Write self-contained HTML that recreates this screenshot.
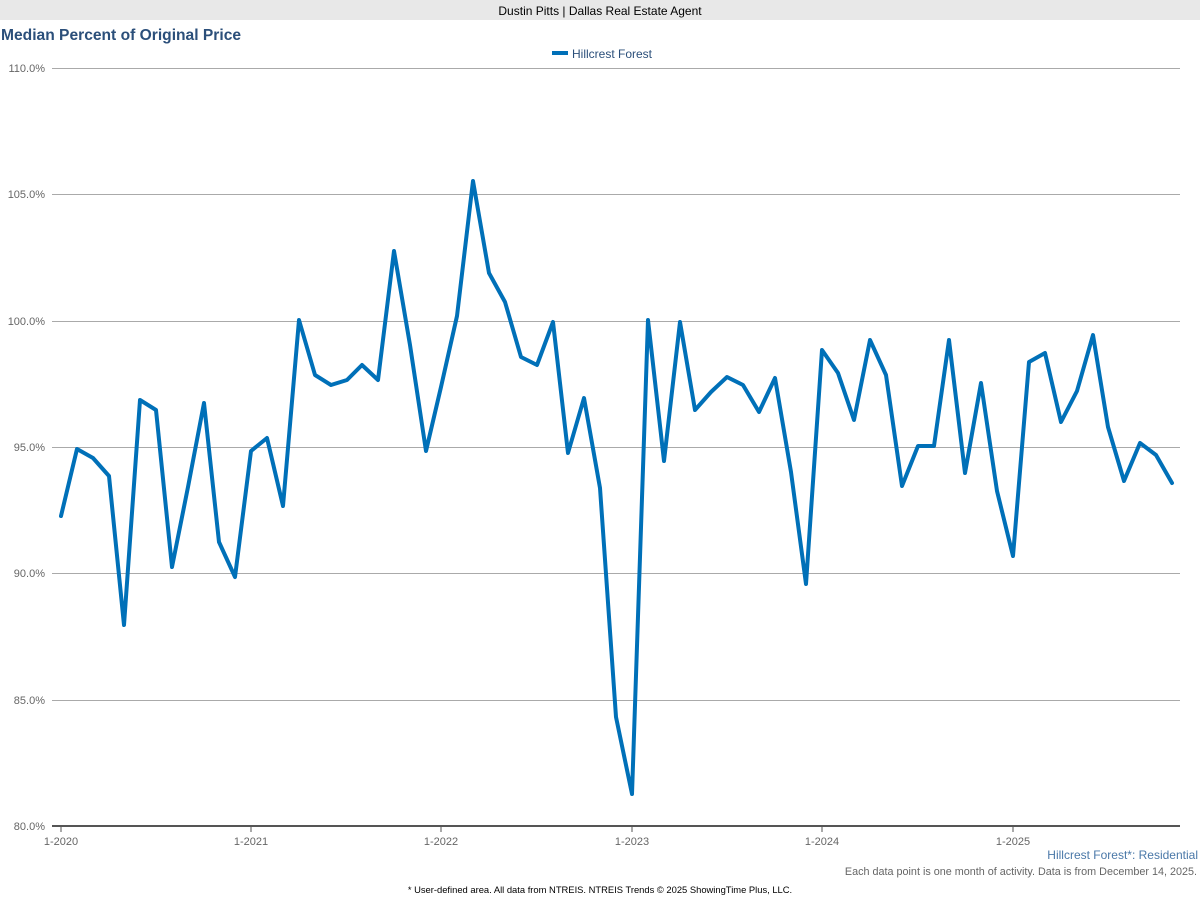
<!DOCTYPE html>
<html><head><meta charset="utf-8"><style>
html,body{margin:0;padding:0;background:#fff;width:1200px;height:900px;overflow:hidden;font-family:"Liberation Sans",Arial,sans-serif}
</style></head><body>
<svg width="1200" height="900" xmlns="http://www.w3.org/2000/svg" font-family="Liberation Sans, Arial, sans-serif">
<rect x="0" y="0" width="1200" height="20" fill="#e8e8e8"/>
<text x="600" y="15" font-size="12" text-anchor="middle" fill="#000">Dustin Pitts | Dallas Real Estate Agent</text>
<text x="1" y="40" font-size="15.6" font-weight="bold" fill="#2b4f7a">Median Percent of Original Price</text>
<line x1="552" y1="53" x2="568" y2="53" stroke="#0070b8" stroke-width="4"/>
<text x="572" y="58" font-size="12" fill="#2b4f7a">Hillcrest Forest</text>
<g stroke="#aaa" stroke-width="1">
<line x1="52" y1="68.5" x2="1180" y2="68.5"/>
<line x1="52" y1="194.5" x2="1180" y2="194.5"/>
<line x1="52" y1="321.5" x2="1180" y2="321.5"/>
<line x1="52" y1="447.5" x2="1180" y2="447.5"/>
<line x1="52" y1="573.5" x2="1180" y2="573.5"/>
<line x1="52" y1="700.5" x2="1180" y2="700.5"/>
</g>
<line x1="52" y1="826" x2="1180" y2="826" stroke="#555" stroke-width="2"/>
<g stroke="#555" stroke-width="1">
<line x1="61" y1="826" x2="61" y2="832"/><line x1="251" y1="826" x2="251" y2="832"/><line x1="441" y1="826" x2="441" y2="832"/><line x1="632" y1="826" x2="632" y2="832"/><line x1="822" y1="826" x2="822" y2="832"/><line x1="1013" y1="826" x2="1013" y2="832"/>
</g>
<g font-size="11" fill="#666" text-anchor="end">
<text x="45" y="72">110.0%</text><text x="45" y="198">105.0%</text><text x="45" y="325">100.0%</text><text x="45" y="451">95.0%</text><text x="45" y="577">90.0%</text><text x="45" y="704">85.0%</text><text x="45" y="830">80.0%</text>
</g>
<g font-size="11" fill="#666" text-anchor="middle">
<text x="61" y="845">1-2020</text><text x="251" y="845">1-2021</text><text x="441" y="845">1-2022</text><text x="632" y="845">1-2023</text><text x="822" y="845">1-2024</text><text x="1013" y="845">1-2025</text>
</g>
<polyline fill="none" stroke="#0070b8" stroke-width="4" stroke-linejoin="round" stroke-linecap="round" points="61,516 77,449 93,458 109,476 124,625 140,400 156,410 172,567 188,487 204,403 219,542 235,577 251,451 267,438 283,506 299,320 315,375 331,385 347,380 362,365 378,380 394,251 410,345 426,451 441,387 457,316 473,181 489,273 505,302 521,357 537,365 553,322 568,453 584,398 600,488 616,717 632,794 648,320 664,461 680,322 695,410 711,392 727,377 743,385 759,412 775,378 791,472 806,584 822,350 838,373 854,420 870,340 886,375 902,486 918,446 934,446 949,340 965,473 981,383 997,491 1013,556 1029,362 1045,353 1061,422 1077,391 1093,335 1108,427 1124,481 1140,443 1156,455 1172,483"/>
<text x="1198" y="859" font-size="12" fill="#4a78a8" text-anchor="end">Hillcrest Forest*: Residential</text>
<text x="1197" y="875" font-size="10.8" fill="#666" text-anchor="end">Each data point is one month of activity. Data is from December 14, 2025.</text>
<text x="600" y="893" font-size="9.4" fill="#000" text-anchor="middle">* User-defined area. All data from NTREIS. NTREIS Trends © 2025 ShowingTime Plus, LLC.</text>
</svg>
</body></html>
